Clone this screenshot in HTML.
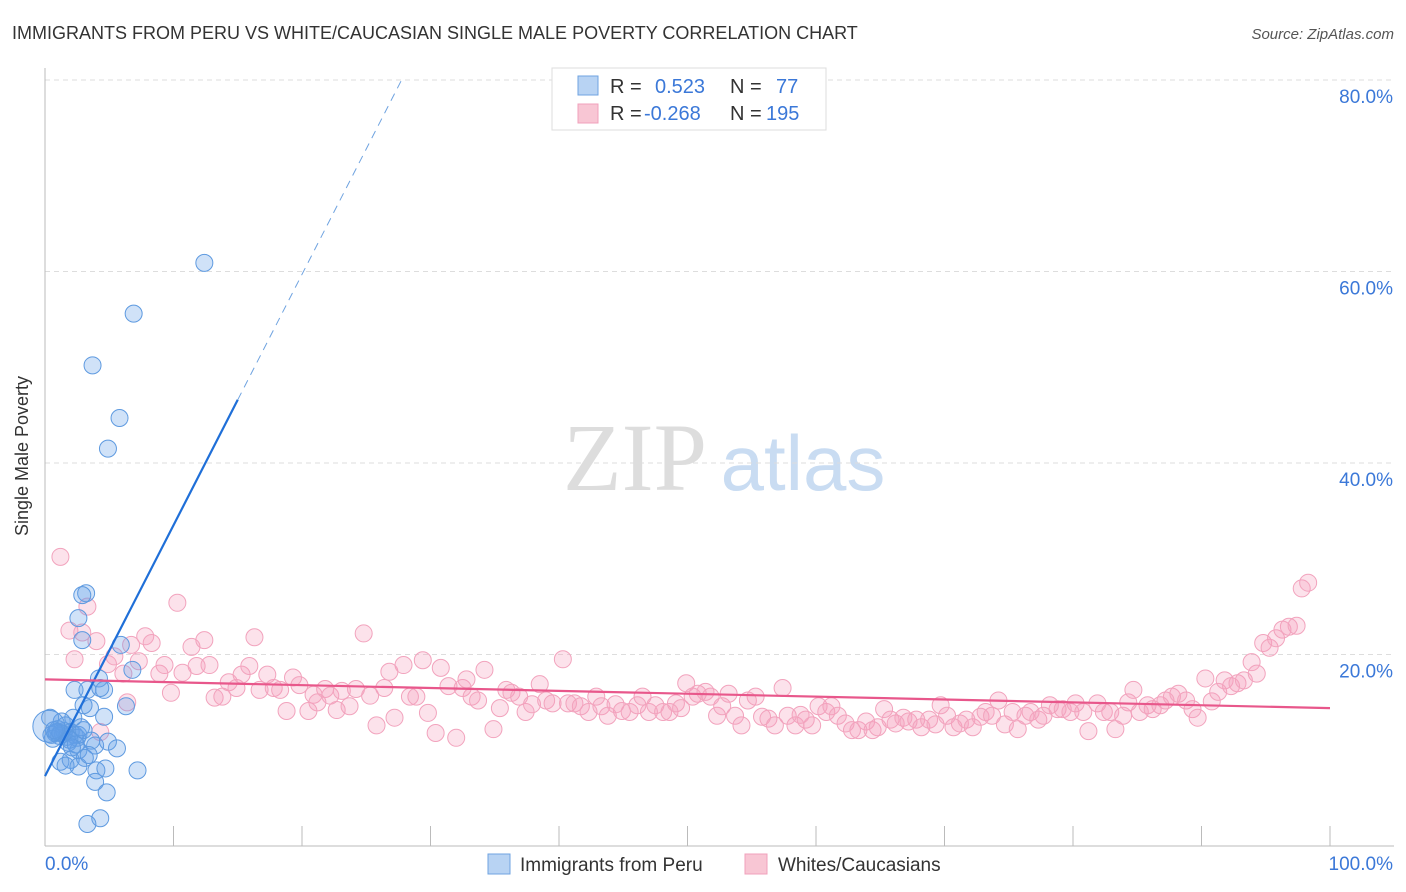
<!DOCTYPE html>
<html><head><meta charset="utf-8"><style>
body{margin:0;background:#fff;font-family:"Liberation Sans",sans-serif;}
svg{display:block}
</style></head><body>
<svg id="chart" width="1406" height="892">
<text x="12" y="39" font-size="18" fill="#333">IMMIGRANTS FROM PERU VS WHITE/CAUCASIAN SINGLE MALE POVERTY CORRELATION CHART</text>
<text x="1394" y="39" font-size="15" fill="#555" font-style="italic" text-anchor="end">Source: ZipAtlas.com</text>
<g><text x="635" y="490" font-size="96" fill="#ddd" font-family="Liberation Serif,serif" text-anchor="middle">ZIP</text><text x="803" y="490" font-size="78" fill="#c9dcf2" text-anchor="middle">atlas</text></g>
<g id="grid"></g><g id="axes"></g><g id="pts"></g><g id="lines"></g>
<text x="28" y="456" font-size="18" fill="#333" text-anchor="middle" transform="rotate(-90 28 456)">Single Male Poverty</text>
<g>
<rect x="552" y="68" width="274" height="62" fill="#fff" stroke="#ddd"/>
<rect x="578" y="76" width="20" height="19" fill="#b8d3f3" stroke="#6fa3e0"/>
<rect x="578" y="104" width="20" height="19" fill="#f8c6d4" stroke="#f0a0bb"/>
<text x="610" y="93" font-size="20" fill="#333">R =</text><text x="655" y="93" font-size="20" fill="#3b78d8">0.523</text>
<text x="730" y="93" font-size="20" fill="#333">N =</text><text x="776" y="93" font-size="20" fill="#3b78d8">77</text>
<text x="610" y="120" font-size="20" fill="#333">R =</text><text x="644" y="120" font-size="20" fill="#3b78d8">-0.268</text>
<text x="730" y="120" font-size="20" fill="#333">N =</text><text x="766" y="120" font-size="20" fill="#3b78d8">195</text>
</g>
<g>
<rect x="488" y="854" width="22" height="20" fill="#b8d3f3" stroke="#6fa3e0"/>
<text x="520" y="871" font-size="19" fill="#333">Immigrants from Peru</text>
<rect x="745" y="854" width="22" height="20" fill="#f8c6d4" stroke="#f0a0bb"/>
<text x="778" y="871" font-size="19" fill="#333">Whites/Caucasians</text>
</g>
</svg>
<script>
const yTicks=[20,40,60,80];
const xTickLabels=["0.0%","100.0%"];
const blueX=[12.4,6.9,3.7,5.8,4.9,3.2,2.9,2.6,2.9,5.9,6.8,4.2,2.3,3.3,4.6,4.3,6.3,3.5,3.0,4.6,2.2,1.3,0.4,0.5,0.8,1.1,1.4,1.7,2.0,2.3,2.5,0.6,1.0,1.5,2.6,1.6,3.9,4.9,5.6,2.6,1.2,2.0,3.1,4.0,4.7,7.2,1.6,2.6,3.9,4.8,4.3,3.3,1.8,2.8,3.6,0.9,1.9,2.4,3.0,1.2,0.7,2.1,3.4];
const blueY=[60.9,55.6,50.2,44.7,41.5,26.4,26.2,23.8,21.5,21.0,18.4,17.5,16.3,16.3,16.3,16.5,14.6,14.4,14.7,13.5,13.4,13.0,13.4,11.6,11.8,11.5,11.7,11.4,11.9,11.6,11.3,11.2,12.2,12.0,11.6,12.6,10.5,10.9,10.2,10.0,8.8,9.0,9.2,7.9,8.1,7.9,8.4,8.3,6.7,5.6,2.9,2.3,10.8,12.4,11.0,11.9,11.1,10.6,12.1,11.8,12.1,10.3,9.5];
const pinkX=[1.2,1.9,2.3,2.9,3.3,4.0,4.3,4.9,5.4,6.1,6.4,6.7,7.3,7.8,8.3,8.9,9.3,9.8,10.3,10.7,11.4,11.8,12.4,12.8,13.2,13.8,14.3,14.9,15.3,15.9,16.3,16.7,17.3,17.8,18.3,18.8,19.3,19.8,20.5,20.9,21.2,21.8,22.2,22.7,23.1,23.7,24.2,24.8,25.3,25.8,26.4,26.8,27.2,27.9,28.4,28.9,29.4,29.8,30.4,30.8,31.4,32.0,32.5,32.8,33.2,33.7,34.2,34.9,35.4,35.9,36.3,36.9,37.4,37.9,38.5,39.0,39.5,40.3,40.7,41.2,41.7,42.3,42.9,43.3,43.8,44.4,44.9,45.5,46.1,46.5,47.0,47.5,48.1,48.6,49.1,49.5,49.9,50.4,50.8,51.4,51.8,52.3,52.7,53.2,53.7,54.2,54.7,55.3,55.8,56.3,56.8,57.4,57.8,58.4,58.8,59.2,59.7,60.2,60.8,61.2,61.7,62.3,62.8,63.3,63.9,64.4,64.8,65.3,65.8,66.2,66.8,67.2,67.8,68.2,68.8,69.3,69.7,70.2,70.7,71.2,71.7,72.2,72.8,73.2,73.7,74.2,74.7,75.3,75.7,76.3,76.7,77.3,77.7,78.2,78.8,79.2,79.8,80.2,80.8,81.2,81.9,82.4,82.9,83.3,83.9,84.3,84.7,85.2,85.8,86.2,86.8,87.2,87.7,88.2,88.8,89.3,89.7,90.3,90.8,91.3,91.8,92.3,92.8,93.3,93.9,94.3,94.8,95.3,95.8,96.3,96.8,97.4,97.8,98.3];
const pinkY=[30.2,22.5,19.5,22.3,25.0,21.4,11.9,19.0,19.8,18.0,15.0,21.0,19.3,21.9,21.2,18.0,18.9,16.0,25.4,18.1,20.8,18.8,21.5,18.9,15.5,15.6,17.1,16.5,17.9,18.8,21.8,16.3,17.9,16.5,16.3,14.1,17.6,16.8,14.1,15.8,15.0,16.4,15.7,14.2,16.2,14.6,16.4,22.2,15.7,12.6,16.5,18.2,13.4,18.9,15.6,15.6,19.4,13.9,11.8,18.6,16.7,11.3,16.5,17.4,15.6,15.2,18.4,12.2,14.4,16.3,16.0,15.6,14.0,14.8,16.9,15.2,14.9,19.5,14.9,14.9,14.6,14.0,15.6,14.6,13.6,14.8,14.1,14.0,14.7,15.6,14.0,14.7,14.0,14.0,14.9,14.4,17.0,15.6,15.9,16.1,15.6,13.6,14.6,15.9,13.6,12.6,15.2,15.6,13.5,13.3,12.6,16.5,13.6,12.6,13.7,13.2,12.6,14.6,14.0,14.6,13.6,12.8,12.1,12.1,13.0,12.1,12.4,14.3,13.2,12.8,13.4,13.0,13.2,12.4,13.2,12.7,14.7,13.6,12.4,12.8,13.2,12.4,13.5,14.0,13.6,15.2,12.7,14.0,12.2,13.6,14.0,13.2,13.6,14.7,14.3,14.3,14.0,14.9,14.0,12.0,14.9,14.0,14.0,12.2,13.6,15.0,16.3,14.0,14.7,14.3,14.7,15.2,15.6,15.9,15.2,14.3,13.4,17.5,15.1,16.1,17.3,16.7,17.0,17.3,19.2,18.0,21.2,20.7,21.7,22.6,22.9,23.0,26.9,27.5];
const blueTrend=[7.3,2.62];
const pinkTrend=[17.4,14.4];
const NS="http://www.w3.org/2000/svg";
const X0=45,X1=1330,Y0=846,Y80=80;
const sx=v=>X0+(X1-X0)*v/100;
const sy=v=>Y0-(Y0-Y80)*v/80;
function mk(tag,attrs,parent){const e=document.createElementNS(NS,tag);for(const k in attrs)e.setAttribute(k,attrs[k]);document.getElementById(parent).appendChild(e);return e;}
yTicks.forEach(t=>{
 const l=mk('line',{x1:X0,x2:1394,y1:sy(t),y2:sy(t),stroke:'#ddd','stroke-dasharray':'5,4'},'grid');
 
 
 const tx=mk('text',{x:1393,y:sy(t)+23,'font-size':19,fill:'#3b78d8','text-anchor':'end'},'grid');
 tx.textContent=t.toFixed(1)+'%';
 
 
});
const ax=mk('line',{x1:X0,x2:X0,y1:68,y2:Y0,stroke:'#bbb'},'axes');


const bx=mk('line',{x1:X0,x2:1394,y1:Y0,y2:Y0,stroke:'#bbb'},'axes');


for(let i=0;i<=10;i++){
 const t=mk('line',{x1:sx(i*10),x2:sx(i*10),y1:Y0,y2:Y0-20,stroke:'#bbb'},'axes');
 
 
}
xTickLabels.forEach((s,i)=>{
 const t=mk('text',{x:i?1393:45,y:870,'font-size':19,fill:'#3b78d8','text-anchor':i?'end':'start'},'axes');
 t.textContent=s;
 
 
});
pinkX.forEach((v,i)=>{
 const c=mk('circle',{cx:sx(v),cy:sy(pinkY[i]),r:8.5,fill:'rgba(244,160,188,0.3)',stroke:'#f2a3bd','stroke-width':1},'pts');
 
 
});
blueX.forEach((v,i)=>{
 const c=mk('circle',{cx:sx(v),cy:sy(blueY[i]),r:8.5,fill:'rgba(100,160,232,0.3)',stroke:'#5e9ae0','stroke-width':1},'pts');
 
 
});
const bigC=mk('circle',{cx:sx(0.3),cy:sy(12.5),r:16,fill:'rgba(100,160,232,0.3)',stroke:'#5e9ae0'},'pts');


const bEnd=15,bDash=(80-blueTrend[0])/blueTrend[1];
const b1=mk('line',{x1:sx(0),y1:sy(blueTrend[0]),x2:sx(bEnd),y2:sy(blueTrend[0]+blueTrend[1]*bEnd),stroke:'#1f6fd8','stroke-width':2.2},'lines');


const b2=mk('line',{x1:sx(bEnd),y1:sy(blueTrend[0]+blueTrend[1]*bEnd),x2:sx(bDash),y2:sy(80),stroke:'#6fa3e0','stroke-width':1,'stroke-dasharray':'8,6'},'lines');


const p1=mk('line',{x1:sx(0),y1:sy(pinkTrend[0]),x2:sx(100),y2:sy(pinkTrend[1]),stroke:'#e8578b','stroke-width':2.2},'lines');


</script>
</body></html>
